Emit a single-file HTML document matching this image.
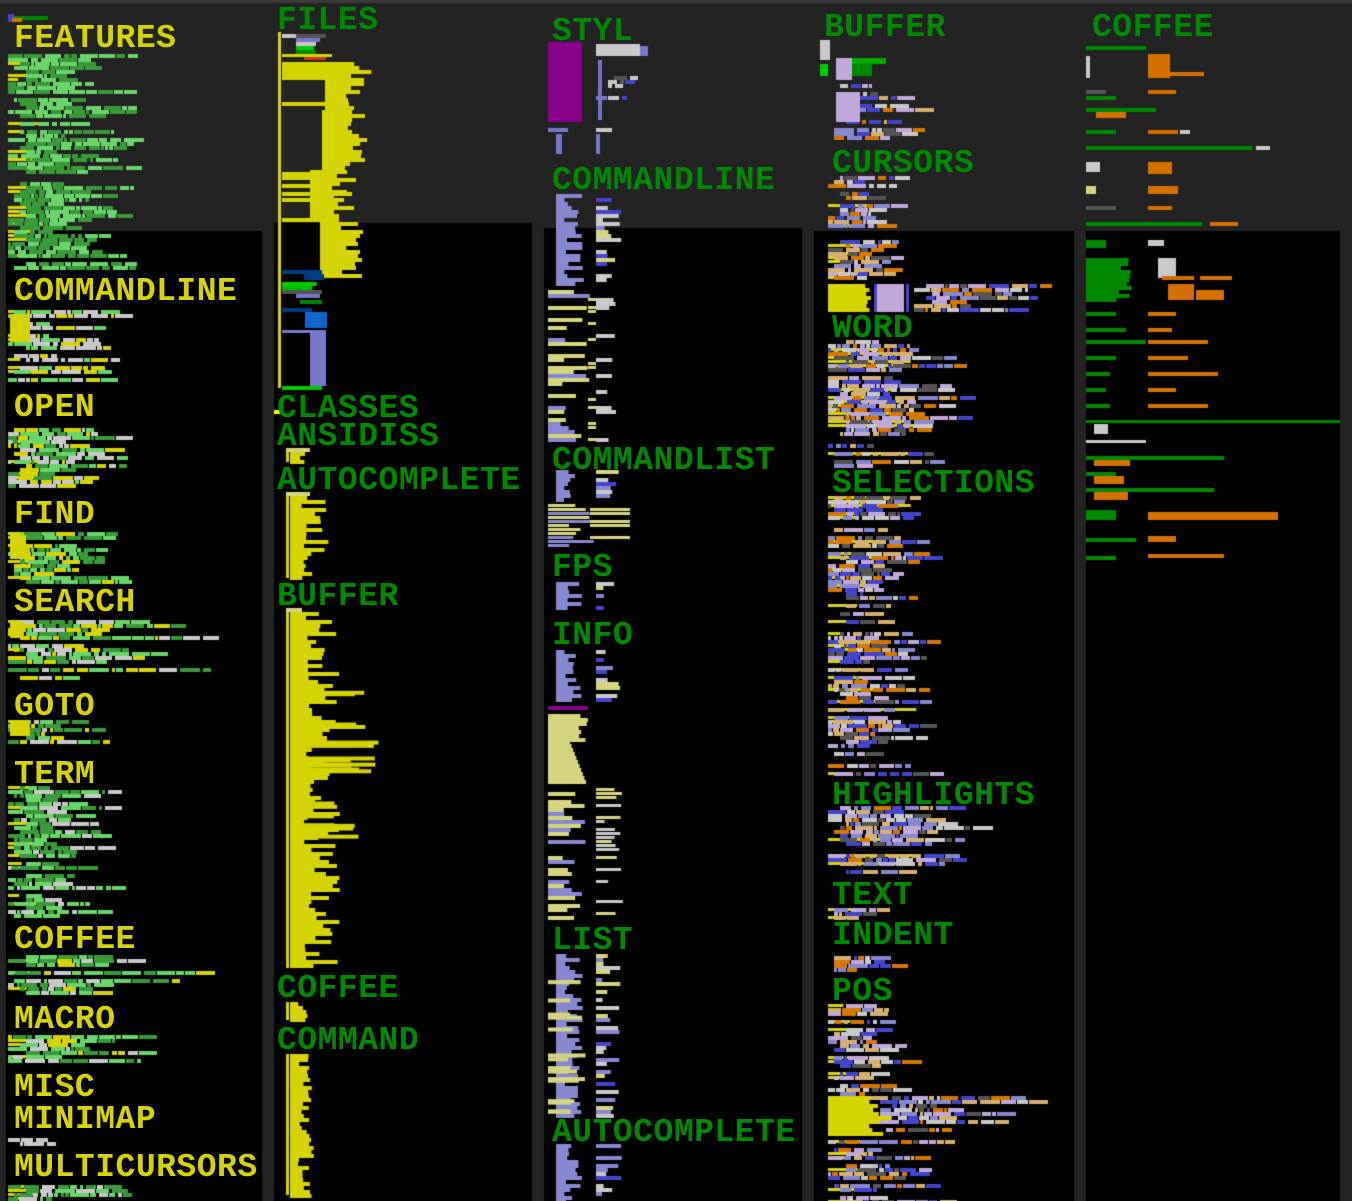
<!DOCTYPE html>
<html><head><meta charset="utf-8">
<style>
html,body{margin:0;padding:0;background:#232323;width:1352px;height:1201px;overflow:hidden}
#c{position:absolute;left:0;top:0}
.h{position:absolute;font-family:"Liberation Mono",monospace;font-weight:bold;font-size:33px;line-height:34px;white-space:nowrap;letter-spacing:0.5px;margin-top:4px}
.y{color:#d4d400}.g{color:#008800}
</style></head><body>
<canvas id="c" width="1352" height="1201"></canvas>
<div class="h y" style="left:14px;top:18px">FEATURES</div>
<div class="h y" style="left:14px;top:271px">COMMANDLINE</div>
<div class="h y" style="left:14px;top:387px">OPEN</div>
<div class="h y" style="left:14px;top:494px">FIND</div>
<div class="h y" style="left:14px;top:582px">SEARCH</div>
<div class="h y" style="left:14px;top:686px">GOTO</div>
<div class="h y" style="left:14px;top:754px">TERM</div>
<div class="h y" style="left:14px;top:919px">COFFEE</div>
<div class="h y" style="left:14px;top:999px">MACRO</div>
<div class="h y" style="left:14px;top:1067px">MISC</div>
<div class="h y" style="left:14px;top:1099px">MINIMAP</div>
<div class="h y" style="left:14px;top:1147px">MULTICURSORS</div>
<div class="h g" style="left:277px;top:0px">FILES</div>
<div class="h g" style="left:277px;top:388px">CLASSES</div>
<div class="h g" style="left:277px;top:416px">ANSIDISS</div>
<div class="h g" style="left:277px;top:460px">AUTOCOMPLETE</div>
<div class="h g" style="left:277px;top:576px">BUFFER</div>
<div class="h g" style="left:277px;top:968px">COFFEE</div>
<div class="h g" style="left:277px;top:1020px">COMMAND</div>
<div class="h g" style="left:552px;top:11px">STYL</div>
<div class="h g" style="left:552px;top:160px">COMMANDLINE</div>
<div class="h g" style="left:552px;top:440px">COMMANDLIST</div>
<div class="h g" style="left:552px;top:547px">FPS</div>
<div class="h g" style="left:552px;top:615px">INFO</div>
<div class="h g" style="left:552px;top:920px">LIST</div>
<div class="h g" style="left:552px;top:1112px">AUTOCOMPLETE</div>
<div class="h g" style="left:824px;top:7px">BUFFER</div>
<div class="h g" style="left:832px;top:143px">CURSORS</div>
<div class="h g" style="left:832px;top:308px">WORD</div>
<div class="h g" style="left:832px;top:463px">SELECTIONS</div>
<div class="h g" style="left:832px;top:775px">HIGHLIGHTS</div>
<div class="h g" style="left:832px;top:875px">TEXT</div>
<div class="h g" style="left:832px;top:915px">INDENT</div>
<div class="h g" style="left:832px;top:971px">POS</div>
<div class="h g" style="left:1092px;top:7px">COFFEE</div>
<script>
var c=document.getElementById('c').getContext('2d');
function R(x,y,w,h,col){c.fillStyle=col;c.fillRect(x,y,w,h);}
var s=12345;function rnd(){s=(s*1103515245+12345)&0x7fffffff;return s/0x7fffffff;}
function pick(a){return a[Math.floor(rnd()*a.length)];}
R(0,0,1352,3,'#3a3a3a');
R(6,231,256,970,'#000');R(274,223,258,978,'#000');R(544,228,258,973,'#000');R(814,231,260,970,'#000');R(1086,231,254,970,'#000');
function rows(x0,y0,y1,pal,maxw,p,lead){
 for(var y=y0;y<y1;y+=4){
  if(rnd()>p)continue;
  var x=x0+pick([0,0,6,12,18]);
  if(lead&&rnd()<0.4){R(x0,y,lead[1]*rnd()+10,3,lead[0]);}
  var end=x0+maxw*(0.3+0.7*rnd());
  while(x<end){var w=3+Math.floor(rnd()*18);R(x,y,w,4,pick(pal));x+=w+(rnd()<0.6?1:3);}
 }
}
var G1=['#6ad46a','#6ad46a','#3a9a3a','#3a9a3a'];
var Y='#d4d400';
R(8,16,40,4,'#008800');R(8,14,6,8,'#4444cc');R(12,18,10,4,'#d47800');
rows(8,54,270,G1,130,0.9,[Y,25]);
rows(8,310,390,['#c8c8c8','#c8c8c8',Y,'#6ad46a'],120,0.6,[Y,20]);
R(10,314,20,28,Y);
rows(8,428,490,['#c8c8c8','#6ad46a',Y,'#3a9a3a'],120,0.8,[Y,20]);
rows(8,532,585,G1.concat([Y]),120,0.9,[Y,30]);R(10,535,16,24,Y);
rows(8,620,680,G1.concat(['#c8c8c8',Y]),220,0.8,[Y,30]);R(10,622,14,16,Y);
rows(8,720,745,G1.concat([Y,'#c8c8c8']),110,0.9,[Y,30]);R(10,720,20,16,Y);
rows(8,786,915,G1.concat(['#c8c8c8']),110,0.9,[Y,20]);
rows(8,955,995,G1.concat(['#c8c8c8',Y]),190,0.8,[Y,20]);
rows(8,1035,1065,G1.concat(['#c8c8c8',Y]),150,0.8,[Y,20]);
rows(8,1138,1146,['#c8c8c8'],60,1,null);
rows(8,1185,1201,G1.concat(['#c8c8c8']),120,0.9,[Y,20]);
R(278,32,3,356,Y);
R(282,34,14,4,'#c8c8c8');R(296,34,30,4,'#555');R(296,38,24,4,'#7777cc');R(296,42,20,4,'#c8c8c8');R(296,46,18,4,'#00cc00');R(296,50,20,4,'#008800');
R(282,54,50,3,Y);R(304,57,22,3,'#cc3322');
for(var i=0;i<54;i++){var y=62+i*4;var base=(y<78)?282:(y<110?325:(y<170?322:(y<220?310:320)));var w=20+Math.floor(rnd()*28);if(y<78)w=60+rnd()*30;R(base,y,w,4,Y);}
[[282,62,60],[282,76,48],[282,102,60],[282,172,55],[282,176,55],[282,184,40],[282,192,70],[282,198,55],[282,218,40]].forEach(function(a){R(a[0],a[1],a[2],4,Y);});
for(var y=222;y<270;y+=4)R(320,y,18+rnd()*12,4,Y);
R(282,270,40,4,'#003c80');R(304,274,20,6,'#003c80');R(282,282,35,4,'#00cc00');R(282,286,30,4,'#00bb00');R(282,290,40,4,'#555');R(296,294,24,4,'#7777cc');R(300,300,22,4,'#008800');R(282,308,30,4,'#003c80');R(305,312,22,16,'#1166cc');
for(var y=330;y<385;y+=4)R(310,y,16,4,'#7777cc');R(282,330,40,3,'#7777cc');R(282,386,40,4,'#00cc00');
R(274,410,6,4,'#ffff00');
function ybar(x0,y0,y1,wmin,wmax){R(x0,y0,3,y1-y0,Y);for(var y=y0;y<y1;y+=4){R(x0+4,y,wmin+rnd()*(wmax-wmin),4,Y);}}
R(286,448,24,4,'#d4d480');ybar(286,452,462,10,22);
R(286,492,24,4,'#d4d480');ybar(286,496,578,10,40);
R(286,608,16,4,'#d4d480');ybar(286,612,968,14,50);
for(var k=0;k<12;k++)R(290,690+rnd()*80,60+rnd()*30,4,Y);
for(var k=0;k<8;k++)R(290,800+rnd()*40,40+rnd()*30,4,Y);
ybar(286,1002,1020,8,20);ybar(286,1054,1195,8,25);
R(548,42,34,80,'#880088');R(596,44,44,12,'#c8c8c8');R(640,46,8,10,'#7777cc');
rows(596,60,124,['#c8c8c8','#7777cc','#555','#4444cc'],70,0.6,null);
R(598,60,4,60,'#7777cc');R(548,128,20,4,'#7777cc');R(596,128,16,4,'#c8c8c8');R(556,134,6,20,'#7777cc');R(596,134,4,20,'#7777cc');
function lav(y0,y1){for(var y=y0;y<y1;y+=4){R(556,y,8+rnd()*20,4,'#8888d0');}}
function gcol(y0,y1,cols){for(var y=y0;y<y1;y+=4){if(rnd()<0.6)R(596,y,6+rnd()*20,4,pick(cols));}}
var C3=['#c8c8c8','#c8c8c8','#4444cc','#d4d480','#8888d0'];
lav(194,285);gcol(194,285,C3);
for(var y=290;y<440;y+=4){if(rnd()<0.7){R(548,y,12+rnd()*30,4,pick(['#d4d480','#8888d0','#d4d480']));}if(rnd()<0.4)R(588,y,8,3,'#d4d480');if(rnd()<0.3)R(596,y,10+rnd()*14,4,'#c8c8c8');}
lav(470,500);gcol(470,500,C3);
for(var y=504;y<548;y+=4){R(548,y,20+rnd()*30,3,pick(['#d4d480','#8888d0']));if(rnd()<0.6)R(590,y,40,3,'#d4d480');}
lav(582,608);gcol(582,608,C3);
lav(650,700);gcol(650,700,C3);R(548,706,40,4,'#880088');
for(var y=714;y<740;y+=4)R(548,y,30+rnd()*10,4,'#d4d480');
for(var y=740;y<784;y+=4)R(548,y,22+(y-740)*0.4,4,'#d4d480');
for(var y=784;y<920;y+=4){if(rnd()<0.7)R(548,y,14+rnd()*24,4,pick(['#d4d480','#8888d0','#d4d480']));if(rnd()<0.5)R(596,y,8+rnd()*20,3,pick(['#d4d480','#c8c8c8']));}
lav(954,1115);gcol(954,1115,C3);
for(var k=0;k<15;k++)R(548,960+rnd()*150,20+rnd()*20,4,'#d4d480');
lav(1144,1201);gcol(1144,1201,C3);
var P4=['#d47800','#c0a8d8','#4444cc','#c8c8c8','#555','#8888d0','#d4b070'];
R(820,40,10,20,'#c8c8c8');R(836,58,16,22,'#c0a8d8');R(852,58,34,6,'#00aa00');R(852,64,20,12,'#008800');R(820,64,8,12,'#00cc00');
rows(834,84,140,P4,100,0.8,null);R(836,92,24,30,'#c0a8d8');
rows(828,176,280,P4,80,0.85,[Y,30]);
for(var y=284;y<312;y+=4){R(828,y,36+rnd()*8,4,Y);}R(874,284,30,28,'#c0a8d8');R(874,284,3,28,'#4444cc');R(906,284,3,28,'#4444cc');
rows(914,284,310,P4,140,1,null);
rows(828,340,465,P4,140,0.85,[Y,80]);
rows(828,496,776,P4,110,0.8,[Y,80]);
rows(828,806,876,P4,150,0.8,[Y,90]);
rows(828,908,918,P4,100,1,[Y,40]);
rows(834,948,970,P4,60,0.8,null);
rows(828,1004,1100,P4,80,0.8,[Y,20]);
for(var y=1096;y<1136;y+=4)R(828,y,40+rnd()*24,4,Y);
rows(880,1096,1136,P4,170,0.9,null);
rows(828,1140,1201,P4,130,0.8,[Y,30]);
var G5='#008800',O='#d47000';
R(1086,46,60,4,G5);R(1148,54,22,24,O);R(1170,72,34,4,O);R(1086,56,4,22,'#c8c8c8');R(1086,90,20,4,'#555');R(1148,90,28,4,O);R(1086,96,30,4,G5);
R(1086,108,70,4,G5);R(1096,112,30,6,O);R(1086,130,30,4,G5);R(1148,130,30,4,O);R(1180,130,10,4,'#c8c8c8');R(1086,146,166,4,G5);R(1256,146,14,4,'#c8c8c8');
R(1086,162,14,10,'#c8c8c8');R(1148,162,24,12,O);R(1086,186,10,8,'#d4d480');R(1148,186,30,8,O);R(1086,206,30,4,'#555');R(1148,206,24,4,O);R(1086,222,116,4,G5);R(1210,222,28,4,O);
R(1086,240,20,8,G5);R(1148,240,16,6,'#c8c8c8');
for(var y=258;y<300;y+=4){R(1086,y,30+rnd()*34,4,G5);}R(1158,258,18,20,'#c8c8c8');R(1162,276,32,4,O);R(1200,276,32,4,O);R(1168,284,26,16,O);R(1196,290,28,10,O);
[[312,30,28],[328,40,24],[340,60,60],[356,30,40],[372,24,70],[388,20,28],[404,24,60]].forEach(function(a){R(1086,a[0],a[1],4,G5);R(1148,a[0],a[2],4,O);});
R(1086,420,254,3,G5);R(1094,424,14,10,'#c8c8c8');R(1086,440,60,3,'#c8c8c8');R(1086,456,138,4,G5);R(1094,460,36,6,O);R(1086,472,30,4,G5);R(1094,476,30,8,O);R(1086,488,128,4,G5);R(1094,492,34,8,O);
R(1086,510,30,10,G5);R(1148,512,130,8,O);R(1086,538,50,4,G5);R(1148,536,28,6,O);R(1086,556,30,4,G5);R(1148,554,76,4,O);
</script>
</body></html>
